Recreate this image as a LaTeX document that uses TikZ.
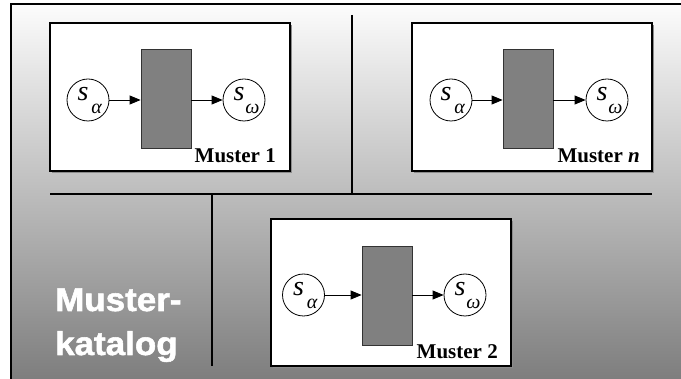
\documentclass[tikz,border=0pt]{standalone}
\usepackage{graphicx}
\usepackage{fontspec}
\setmainfont{Liberation Serif}
\newfontfamily\catfont[FakeBold=1.6]{Liberation Sans Bold}
\usetikzlibrary{arrows.meta,shadows}

\definecolor{bgtop}{RGB}{252,252,252}
\definecolor{bgbot}{RGB}{126,126,126}
\definecolor{blockgray}{RGB}{128,128,128}
\definecolor{shadowgray}{RGB}{140,140,140}

\tikzset{
  patternbox/.style={draw=black, line width=2pt, fill=white, inner sep=0pt,
    minimum width=240pt, minimum height=148pt,
    general shadow={shadow xshift=2pt, shadow yshift=-2pt, fill=shadowgray}},
  block/.style={draw=black!80, line width=0.8pt, fill=blockgray, inner sep=0pt,
    minimum width=50pt, minimum height=99pt},
  statenode/.style={circle, draw=black, line width=0.8pt, fill=white,
    inner sep=0pt, minimum size=42pt},
  sym/.style={inner sep=0pt, font=\fontsize{28}{28}\selectfont\itshape},
  subsym/.style={inner sep=0pt, font=\fontsize{20}{20}\selectfont\itshape},
  salpha/.style={statenode,
    label={[sym, xshift=-5pt, yshift=6pt]center:s},
    label={[subsym, xshift=8.5pt, yshift=-9pt]center:α}},
  somega/.style={statenode,
    label={[sym, xshift=-5pt, yshift=6pt]center:s},
    label={[subsym, xshift=8.5pt, yshift=-9pt]center:ω}},
  flow/.style={line width=0.8pt, -{Triangle[length=11pt,width=9pt]}},
  tag/.style={inner sep=0pt, anchor=base east, font=\bfseries\fontsize{21}{21}\selectfont},
  divider/.style={line width=1.4pt},
  catalog/.style={inner sep=0pt, anchor=base west, text=white,
    font=\catfont\fontsize{33}{33}\selectfont}
}

\begin{document}
\begin{tikzpicture}[x=1pt,y=-1pt]
\useasboundingbox (0,0) rectangle (681,379);
\fill[white] (0,0) rectangle (681,379);

% shaded panel with its frame
\shade[top color=bgtop, bottom color=bgbot] (11,4) rectangle (681,379);
\draw[line width=2pt] (11,379) -- (11,4) -- (681,4);

% dividing lines
\coordinate (hl) at (50,194);
\coordinate (hr) at (652,194);
\coordinate (vt) at (352,15);
\coordinate (vb) at (212,366);
\draw[divider] (vt) -- (vt |- hl);
\draw[divider] (hl) -- (hr);
\draw[divider] (vb |- hl) -- (vb);

% pattern 1
\node[patternbox] (m1) at (169.5,97) {};
\node[block] (b1) at (166,98.5) {};
\node[salpha] (a1) at (88,100) {};
\node[somega] (w1) at (244,100) {};
\draw[flow] (a1.east) -- (a1.east -| b1.west);
\draw[flow] (b1.east |- w1.west) -- (w1.west);
\node[tag] (t1) at (276,163) {Muster 1};

% pattern n
\node[patternbox] (mn) at (532,97) {};
\node[block] (bn) at (528,98.5) {};
\node[salpha] (an) at (451,100) {};
\node[somega] (wn) at (607,100) {};
\draw[flow] (an.east) -- (an.east -| bn.west);
\draw[flow] (bn.east |- wn.west) -- (wn.west);
\node[tag] (tn) at (640,163) {Muster \textit{n}};

% pattern 2
\node[patternbox, minimum height=147pt] (m2) at (391,292.5) {};
\node[block] (b2) at (387,295.5) {};
\node[salpha] (a2) at (303.5,295) {};
\node[somega] (w2) at (465,295) {};
\draw[flow] (a2.east) -- (a2.east -| b2.west);
\draw[flow] (b2.east |- w2.west) -- (w2.west);
\node[tag] (t2) at (498,359) {Muster 2};

% catalogue caption
\node[catalog] (k1) at (55,311) {\scalebox{1.06}[1]{Muster-}};
\node[catalog] (k2) at (55,355) {\scalebox{1.06}[1]{katalog}};
\end{tikzpicture}
\end{document}
